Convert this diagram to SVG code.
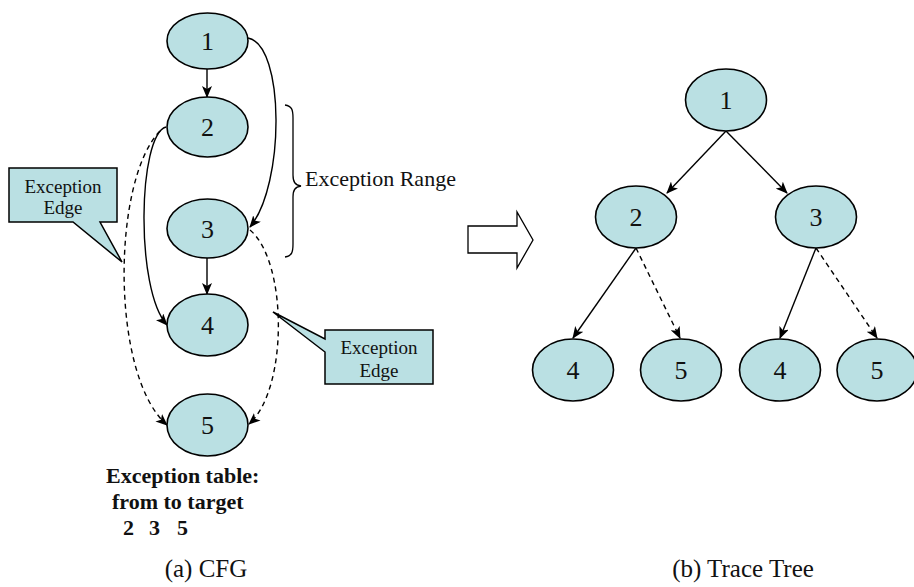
<svg xmlns="http://www.w3.org/2000/svg" width="914" height="587" viewBox="0 0 914 587">
  <style>
    .node ellipse { fill: #bae0e3; stroke: #000; stroke-width: 1.6; }
    .node text { font-family: "Liberation Serif", serif; font-size: 26px; text-anchor: middle; fill: #111; }
    .edge { fill: none; stroke: #000; stroke-width: 1.4; marker-end: url(#arrow); }
    .dashed { stroke-dasharray: 5 4; }
    .callout { fill: #bae0e3; stroke: #000; stroke-width: 1.5; }
    .label { font-family: "Liberation Serif", serif; font-size: 19px; fill: #111; }
    .bold { font-family: "Liberation Serif", serif; font-size: 22px; font-weight: bold; fill: #111; }
    .caption { font-family: "Liberation Serif", serif; font-size: 25px; fill: #111; text-anchor: middle; }
  </style>
  <defs>
    <marker id="arrow" viewBox="0 0 12 10" refX="11" refY="5" markerWidth="12" markerHeight="10" markerUnits="userSpaceOnUse" orient="auto">
      <path d="M0,0 L12,5 L0,10 L3,5 Z" fill="#000"/>
    </marker>
  </defs>

  <!-- (a) control flow graph: connectors -->
  <g id="cfg-edges">
    <path class="edge" d="M207,69 L207,97"/>
    <path class="edge" d="M248,38 C285,45 285,185 250,227"/>
    <path class="edge" d="M166,127 C138,135 135,290 167,325"/>
    <path class="edge" d="M207,258 L207,294"/>
    <path class="edge dashed" d="M160,131 C112,180 110,375 167,425"/>
    <path class="edge dashed" d="M250,230 C288,262 288,390 249,424"/>
  </g>

  <!-- (a) control flow graph: nodes -->
  <g id="cfg-1" class="node"><ellipse cx="207.5" cy="41" rx="40.5" ry="28"/><text x="207.5" y="50">1</text></g>
  <g id="cfg-2" class="node"><ellipse cx="207.5" cy="127" rx="40.5" ry="30"/><text x="207.5" y="136">2</text></g>
  <g id="cfg-3" class="node"><ellipse cx="207.5" cy="228.5" rx="40.5" ry="29.5"/><text x="207.5" y="237.5">3</text></g>
  <g id="cfg-4" class="node"><ellipse cx="207.5" cy="325" rx="40.5" ry="31"/><text x="207.5" y="334">4</text></g>
  <g id="cfg-5" class="node"><ellipse cx="207.5" cy="425" rx="40.5" ry="31"/><text x="207.5" y="434">5</text></g>

  <!-- callouts -->
  <g id="callout-left">
    <path class="callout" d="M9,168 H117 V222 H100 L122,262 L73,222 H9 Z"/>
    <text class="label" x="63" y="193" text-anchor="middle">Exception</text>
    <text class="label" x="63" y="214" text-anchor="middle">Edge</text>
  </g>
  <g id="callout-right">
    <path class="callout" d="M325,330 H433 V384 H325 V352 L273,312 L325,339 Z"/>
    <text class="label" x="379" y="354" text-anchor="middle">Exception</text>
    <text class="label" x="379" y="377" text-anchor="middle">Edge</text>
  </g>

  <!-- exception range brace -->
  <g id="exception-range">
    <path d="M285,105 C292,106 293,110 293,118 L293,175 C293,182 295,185 301,186 C295,187 293,190 293,197 L293,244 C293,252 292,256 285,257" fill="none" stroke="#000" stroke-width="1.3"/>
    <text class="label" x="305" y="186" style="font-size:22px">Exception Range</text>
  </g>

  <!-- exception table -->
  <g id="exception-table">
    <text class="bold" x="106" y="483">Exception table:</text>
    <text class="bold" x="112" y="509">from to target</text>
    <text class="bold" x="123" y="535">2</text>
    <text class="bold" x="149" y="535">3</text>
    <text class="bold" x="177" y="535">5</text>
  </g>

  <!-- transformation arrow -->
  <g id="transform-arrow">
    <path d="M468,226 H517 V212 L533,240 L517,268 V253 H468 Z" fill="#fff" stroke="#000" stroke-width="1.3"/>
  </g>

  <!-- (b) trace tree: connectors -->
  <g id="tree-edges">
    <path class="edge" d="M726,131 L667,193"/>
    <path class="edge" d="M726,131 L787,193"/>
    <path class="edge" d="M636,248 L573,338"/>
    <path class="edge dashed" d="M636,248 L680,338"/>
    <path class="edge" d="M816,248 L780,338"/>
    <path class="edge dashed" d="M816,248 L877,338"/>
  </g>

  <!-- (b) trace tree: nodes -->
  <g id="tree-1" class="node"><ellipse cx="726" cy="100" rx="40.5" ry="31"/><text x="726" y="109">1</text></g>
  <g id="tree-2" class="node"><ellipse cx="636" cy="217" rx="40.5" ry="31"/><text x="636" y="226">2</text></g>
  <g id="tree-3" class="node"><ellipse cx="816" cy="217" rx="40.5" ry="31"/><text x="816" y="226">3</text></g>
  <g id="tree-4a" class="node"><ellipse cx="573" cy="370" rx="40.5" ry="31"/><text x="573" y="379">4</text></g>
  <g id="tree-5a" class="node"><ellipse cx="681" cy="370" rx="40.5" ry="31"/><text x="681" y="379">5</text></g>
  <g id="tree-4b" class="node"><ellipse cx="780" cy="370" rx="40.5" ry="31"/><text x="780" y="379">4</text></g>
  <g id="tree-5b" class="node"><ellipse cx="877" cy="370" rx="40" ry="31"/><text x="877" y="379">5</text></g>

  <!-- captions -->
  <text class="caption" x="206" y="577">(a) CFG</text>
  <text class="caption" x="743" y="577">(b) Trace Tree</text>
</svg>
